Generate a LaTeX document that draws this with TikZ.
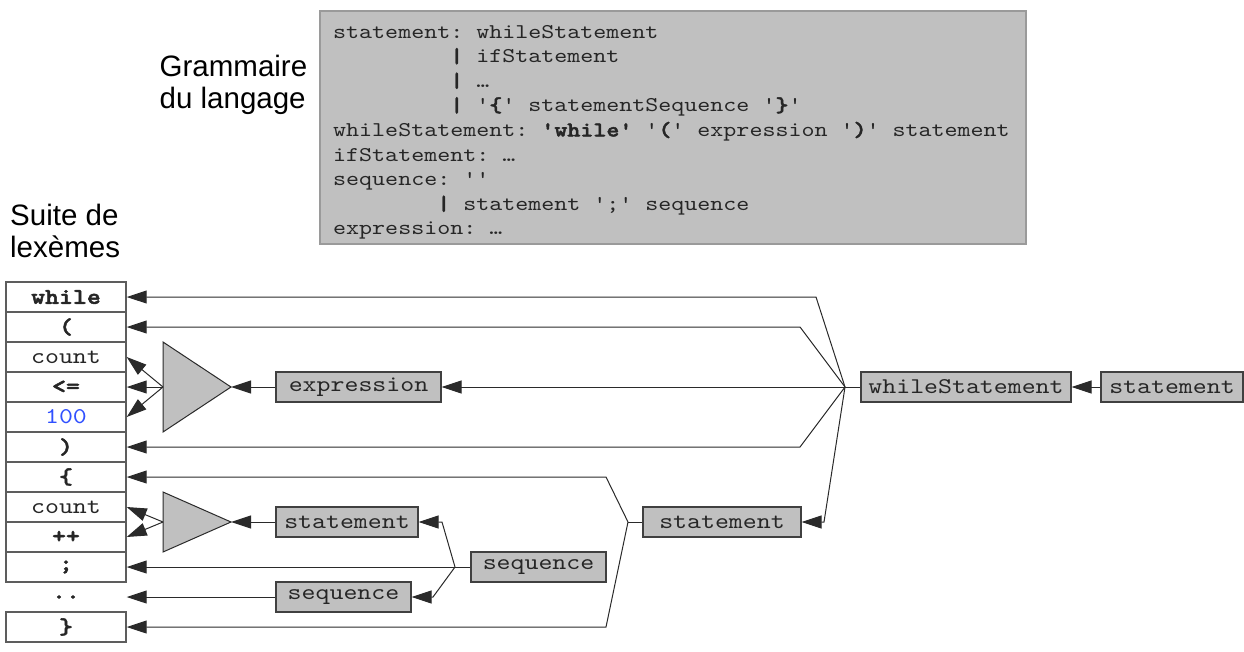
\documentclass[tikz,border=0pt]{standalone}
\usepackage{fontspec}
\setmainfont{Liberation Sans}
\newfontfamily\cmono{lmmono10-regular.otf}[BoldFont=lmmonolt10-bold.otf, BoldFeatures={FakeBold=2.2}, FakeStretch=1.18]
\usetikzlibrary{arrows.meta}
\definecolor{boxgray}{HTML}{C0C0C0}
\definecolor{edgegray}{HTML}{404040}
\definecolor{framegray}{HTML}{9A9A9A}
\definecolor{lineclr}{HTML}{2A2A2A}
\definecolor{numblue}{HTML}{3050FF}
\begin{document}
\frenchspacing
\begin{tikzpicture}[x=1pt,y=-1pt,
  gbox/.style={draw=edgegray, fill=boxgray, line width=1.2pt, inner sep=0pt,
    minimum height=30pt, font=\cmono\frenchspacing\fontsize{22.5}{26}\selectfont, text=black!85},
  tok/.style={draw=edgegray!85, line width=1.4pt, fill=white, minimum width=120pt,
    minimum height=30pt, inner sep=0pt, font=\cmono\fontsize{22.5}{26}\selectfont, text=black!85},
  arr/.style={draw=lineclr, line width=1pt, -{Triangle[length=20pt,width=13pt]}},
  ln/.style={draw=lineclr, line width=1pt},
  tri/.style={draw=lineclr, line width=1pt, fill=boxgray},
  gram/.style={anchor=base west, inner sep=0pt, font=\cmono\frenchspacing\fontsize{21}{24}\selectfont, text=black!85},
  title/.style={anchor=base west, inner sep=0pt, font=\fontsize{29.5}{32}\selectfont}]
\useasboundingbox (0,0) rectangle (1244,651);

% titles
\node[title] (ta) at (159.5,76) {Grammaire};
\node[title] (tb) at (159.5,108) {du langage};
\node[title] (tc) at (10,225) {Suite de};
\node[title] (td) at (10,257) {lexèmes};

% grammar box
\node[draw=framegray, fill=boxgray, line width=1.2pt, minimum width=706pt, minimum height=233pt, inner sep=0pt] (grammar) at (673,127.5) {};
\node[gram] (g1) at (333,38) {statement: whileStatement};
\node[gram] (g2) at (333,62.6) {\phantom{statement}\textbf{|} ifStatement};
\node[gram] (g3) at (333,87.2) {\phantom{statement}\textbf{|} …};
\node[gram] (g4) at (333,111.8) {\phantom{statement}\textbf{|} '\textbf{\{}' statementSequence '\textbf{\}}'};
\node[gram] (g5) at (333,136.4) {whileStatement: \textbf{'while'} '\textbf{(}' expression '\textbf{)}' statement};
\node[gram] (g6) at (333,161) {ifStatement: …};
\node[gram] (g7) at (333,185.6) {sequence: ''};
\node[gram] (g8) at (333,210.2) {\phantom{sequence}\textbf{|} statement ';' sequence};
\node[gram] (g9) at (333,234.8) {expression: …};

% token column
\node[tok] (tk1) at (66,297) {\textbf{while}};
\node[tok] (tk2) at (66,327) {\textbf{(}};
\node[tok] (tk3) at (66,357) {count};
\node[tok] (tk4) at (66,387) {\textbf{<=}};
\node[tok, text=numblue] (tk5) at (66,417) {100};
\node[tok] (tk6) at (66,447) {\textbf{)}};
\node[tok] (tk7) at (66,477) {\textbf{\{}};
\node[tok] (tk8) at (66,507) {count};
\node[tok] (tk9) at (66,537) {\textbf{++}};
\node[tok] (tk10) at (66,567) {\textbf{;}};
\node[tok, draw=none, fill=none] (tk11) at (66,597) {\textbf{..}};
\node[tok] (tk12) at (66,627) {\textbf{\}}};

% grey boxes
\node[gbox, minimum width=165pt] (expr) at (358.5,387) {expression};
\node[gbox, minimum width=210pt] (ws) at (966,387) {whileStatement};
\node[gbox, minimum width=142pt] (stR) at (1172,387) {statement};
\node[gbox, minimum width=158pt] (st2) at (722,522) {statement};
\node[gbox, minimum width=142pt] (st1) at (347,522) {statement};
\node[gbox, minimum width=135pt] (seq) at (538.5,567) {sequence};
\node[gbox, minimum width=135pt] (seq2) at (343.5,597) {sequence};

% triangles
\coordinate (t1l) at (163,387);
\coordinate (t1r) at (231,387);
\coordinate (t2l) at (163,522);
\coordinate (t2r) at (231,522);
\draw[tri] (163,342) -- (t1r) -- (163,432) -- cycle;
\draw[tri] (163,492) -- (t2r) -- (163,552) -- cycle;

% junctions
\coordinate (jw) at (845,387);
\coordinate (js) at (628,522);
\coordinate (jq) at (455,567);

% whileStatement connectors
\draw[arr] (stR.west) -- (ws.east);
\draw[ln] (ws.west) -- (jw);
\draw[arr] (jw) -- (816,297) -- (tk1.east);
\draw[arr] (jw) -- (800,327) -- (tk2.east);
\draw[arr] (jw) -- (expr.east);
\draw[arr] (jw) -- (800,447) -- (tk6.east);
\draw[arr] (jw) -- (824,522) -- (st2.east);

% expression
\draw[arr] (expr.west) -- (t1r);
\draw[arr] (t1l) -- (tk3.east);
\draw[arr] (t1l) -- (tk4.east);
\draw[arr] (t1l) -- (tk5.east);

% statement (middle)
\draw[ln] (st2.west) -- (js);
\draw[arr] (js) -- (606,477) -- (tk7.east);
\draw[arr] (js) -- (606,627) -- (tk12.east);

% sequence
\draw[ln] (seq.west) -- (jq);
\draw[arr] (jq) -- (tk10.east);
\draw[arr] (jq) -- (442,522) -- (st1.east);
\draw[arr] (jq) -- (433,597) -- (seq2.east);
\draw[arr] (seq2.west) -- (tk11.east);

% inner statement
\draw[arr] (st1.west) -- (t2r);
\draw[arr] (t2l) -- (tk8.east);
\draw[arr] (t2l) -- (tk9.east);
\end{tikzpicture}
\end{document}
